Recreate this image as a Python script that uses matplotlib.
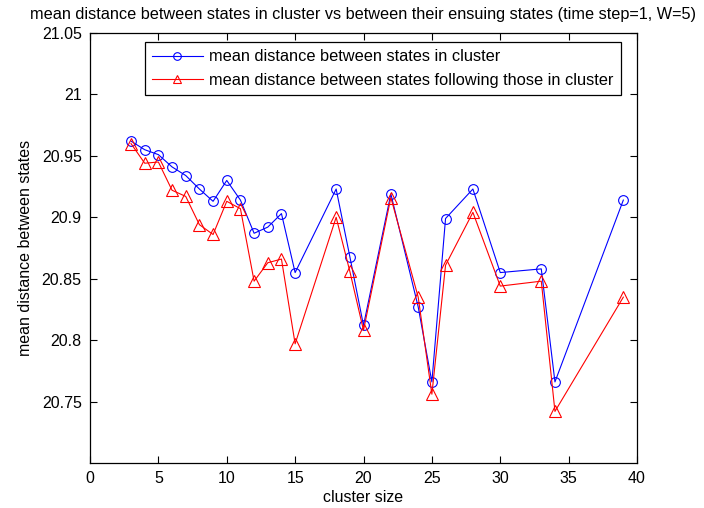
import matplotlib
matplotlib.use("Agg")
import matplotlib.pyplot as plt

plt.rcParams['font.family'] = ['Liberation Sans', 'DejaVu Sans']

cluster_size = [3, 4, 5, 6, 7, 8, 9, 10, 11, 12, 13, 14, 15, 18, 19, 20,
                22, 24, 25, 26, 28, 30, 33, 34, 39]
dist_in_cluster = [20.962, 20.955, 20.951, 20.941, 20.934, 20.923, 20.913,
                   20.930, 20.914, 20.887, 20.892, 20.903, 20.855, 20.923,
                   20.868, 20.812, 20.919, 20.827, 20.766, 20.899, 20.923,
                   20.855, 20.858, 20.766, 20.914]
dist_following = [20.960, 20.944, 20.945, 20.922, 20.917, 20.894, 20.886,
                  20.913, 20.907, 20.848, 20.863, 20.866, 20.797, 20.900,
                  20.856, 20.808, 20.916, 20.835, 20.756, 20.861, 20.904,
                  20.844, 20.848, 20.742, 20.835]

xticks = [0, 5, 10, 15, 20, 25, 30, 35, 40]
yticks = [20.75, 20.8, 20.85, 20.9, 20.95, 21, 21.05]
ytick_labels = ['20.75', '20.8', '20.85', '20.9', '20.95', '21', '21.05']

fig = plt.figure(figsize=(7.04, 5.08), dpi=100)
ax = fig.add_axes([90 / 704, 45 / 508, 547 / 704, 430 / 508])

ax.plot(cluster_size, dist_in_cluster, color='#0000ff', lw=0.8, marker='o',
        ms=7, mfc='none', mec='#0000ff', mew=0.8,
        label='mean distance between states in cluster')
ax.plot(cluster_size, dist_following, color='#ff0000', lw=0.8, marker='^',
        ms=8, mfc='none', mec='#ff0000', mew=0.8,
        label='mean distance between states following those in cluster')

ax.set_xlim(0, 40)
ax.set_ylim(20.7, 21.05)
ax.set_xticks(xticks)
ax.set_yticks(yticks)
ax.set_yticklabels(ytick_labels)
ax.tick_params(direction='in', length=5, width=0.8, top=True, right=True,
               labelsize=11.5, pad=6, colors='black')
for s in ax.spines.values():
    s.set_linewidth(0.9)

ax.set_xlabel('cluster size', fontsize=11.5, labelpad=3)
ax.set_ylabel('mean distance between states', fontsize=11.5, labelpad=6)
ax.set_title('mean distance between states in cluster vs between their '
             'ensuing states (time step=1, W=5)', fontsize=11.7, pad=10)

leg = ax.legend(loc='upper left', bbox_to_anchor=(0.1, 0.979),
                borderaxespad=0, fontsize=11.8, fancybox=False, framealpha=1,
                edgecolor='black', handlelength=3.1, handletextpad=0.4,
                borderpad=0.45, labelspacing=0.5)
leg.get_frame().set_linewidth(0.9)
for h in leg.legend_handles:
    h.set_markersize(5.5)

fig.savefig('out.png', dpi=100)
